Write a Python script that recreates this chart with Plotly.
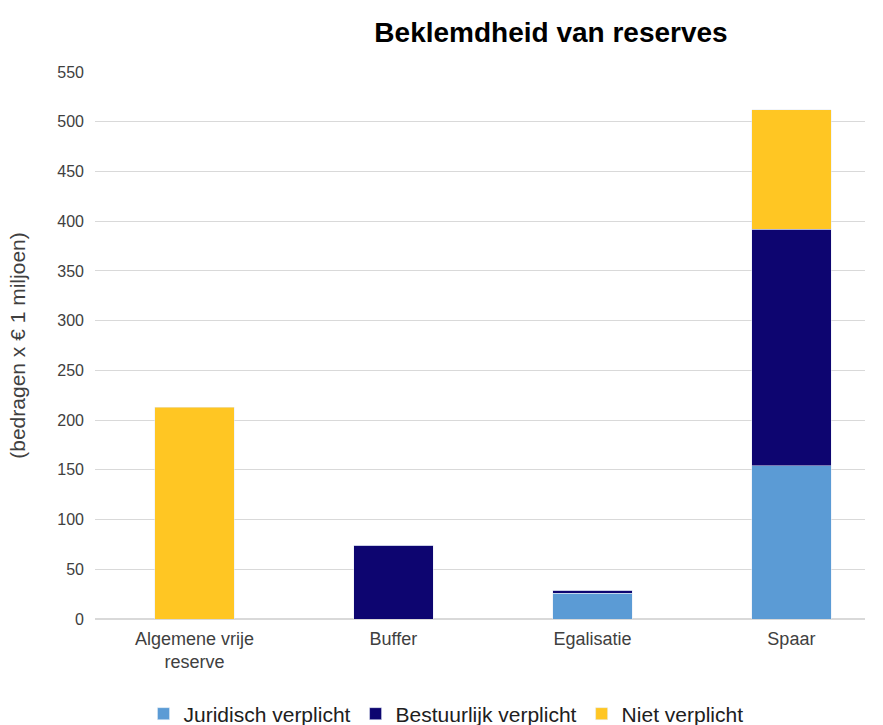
import plotly.graph_objects as go

categories = ["Algemene vrije<br>reserve", "Buffer", "Egalisatie", "Spaar"]
juridisch = [0, 0, 26, 154]
bestuurlijk = [0, 74, 3, 238]
niet = [213, 0, 0, 120]
y_ticks = list(range(0, 551, 50))

fig = go.Figure()
fig.add_bar(name="Juridisch verplicht", x=categories, y=juridisch, marker_color="#5B9BD5")
fig.add_bar(name="Bestuurlijk verplicht", x=categories, y=bestuurlijk, marker_color="#0D0570")
fig.add_bar(name="Niet verplicht", x=categories, y=niet, marker_color="#FFC623")

fig.update_layout(
    width=883, height=725,
    barmode="stack", bargap=0.6,
    plot_bgcolor="white", paper_bgcolor="white",
    font=dict(family="Liberation Sans, Arial, sans-serif", size=16, color="#404040"),
    margin=dict(l=95, r=18, t=72, b=106, autoexpand=False),
    title=dict(text="<b>Beklemdheid van reserves</b>", x=551/883, xanchor="center",
               y=1-32/725, yanchor="middle", xref="container", yref="container",
               font=dict(size=28, color="#000000")),
    legend=dict(orientation="h", x=446/883, xanchor="center", xref="container",
                y=1-714/725, yanchor="middle", yref="container",
                font=dict(size=21, color="#202020"), traceorder="normal",
                itemwidth=30),
    yaxis=dict(range=[0, 550], tickvals=y_ticks, gridcolor="#D9D9D9", gridwidth=1,
               zeroline=True, zerolinecolor="#D9D9D9", showline=False,
               ticks="", ticklen=0, ticklabelstandoff=10,
               tickfont=dict(size=16, color="#404040"),
               title=dict(text="(bedragen x € 1 miljoen)", font=dict(size=21, color="#404040"), standoff=25)),
    xaxis=dict(showline=False, ticks="", range=[-0.5, 3.37], ticklabelstandoff=7,
               tickfont=dict(size=18, color="#404040")),
)

fig.write_html("out.html", config={"displayModeBar": False},
               post_script="document.body.style.margin='0px';document.body.style.padding='0px';")
